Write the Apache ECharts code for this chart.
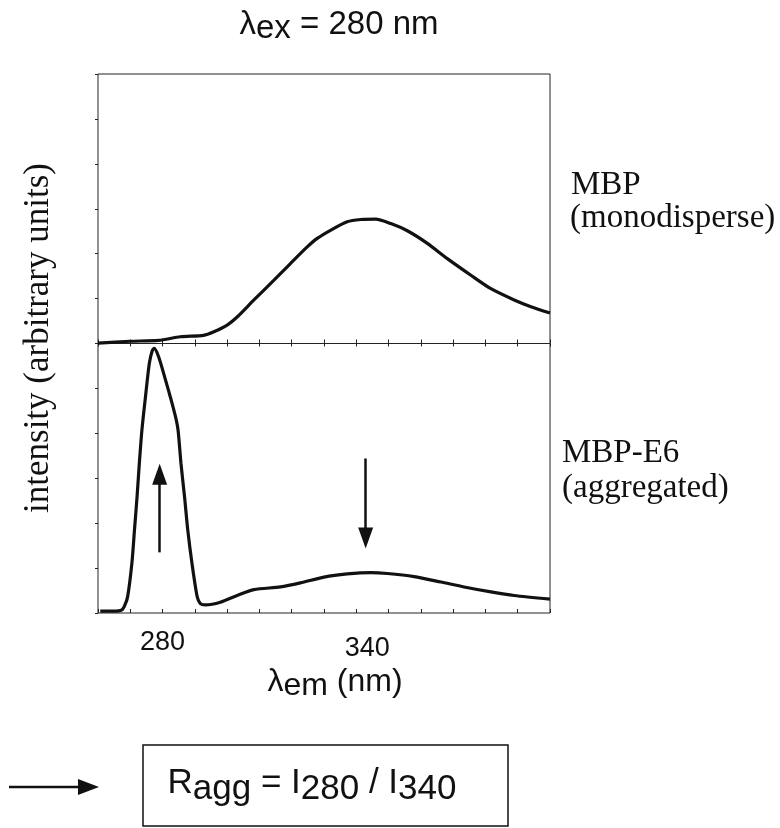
<!DOCTYPE html>
<html><head><meta charset="utf-8">
<script src="https://cdn.jsdelivr.net/npm/echarts@6/dist/echarts.min.js"></script>
<style>html,body{margin:0;padding:0;background:#fff}#c{width:780px;height:828px}</style>
</head><body><div id="c"></div>
<script>
// x range / ticks (nm)
const xMin = 260, xMax = 400, xStep = 10;
const xTickLabels = [280, 340];
// MBP (monodisperse) emission spectrum
const mbpX = [260,270,278.8,285.5,292.7,295.9,300,303.1,308.3,314.5,319.6,324.8,327.9,332,337.2,341.4,346,350.7,355.8,362,368.2,375.5,381.7,388.9,394.1,400];
const mbpY = [0.01,0.05,0.07,0.15,0.18,0.26,0.41,0.59,0.97,1.41,1.78,2.15,2.34,2.52,2.71,2.76,2.77,2.67,2.51,2.23,1.89,1.52,1.22,0.97,0.82,0.68];
// MBP-E6 (aggregated) emission spectrum
const e6X = [260.7,264.8,267.4,268.4,269.2,270.5,271.3,272.1,272.8,273.6,274.7,275.9,276.8,277.4,278.8,280.9,282.4,284,284.8,285.7,286.8,287.8,289.1,290.7,291.7,293.3,297.9,303.1,308.3,316.5,322.7,330,337.2,344.5,349.6,357.9,366.2,373.4,381.7,388.9,400];
const e6Y = [0.04,0.04,0.07,0.19,0.37,1.11,1.85,2.59,3.33,4.07,4.81,5.56,5.84,5.89,5.70,5.19,4.81,4.37,4.07,3.33,2.59,1.85,1.11,0.37,0.21,0.18,0.24,0.39,0.52,0.58,0.67,0.80,0.87,0.90,0.88,0.81,0.69,0.58,0.47,0.39,0.31];
// annotation arrows (nm, intensity)
const arrowX = [279.1, 342.9];
const arrowFrom = [1.35, 3.44];
const arrowTo = [3.09, 1.67];

const SANS = '"Liberation Sans", Arial, Helvetica, sans-serif';
const SERIF = '"Liberation Serif", "Times New Roman", serif';
const INK = '#111';

const pairs = (xs, ys) => xs.map((x, i) => [x, ys[i]]);

const chart = echarts.init(document.getElementById('c'), null, {renderer: 'canvas'});

const gridBase = {left: 98, right: 230, show: true, borderColor: '#222', borderWidth: 1, backgroundColor: 'transparent', outerBoundsMode: 'none', containLabel: false};
const xBase = {type: 'value', min: xMin, max: xMax, interval: xStep, axisLine: {show: false}, splitLine: {show: false},
  axisTick: {show: true, inside: true, length: 4, lineStyle: {color: '#222', width: 1}}, axisLabel: {show: false}};
const yBase = {type: 'value', min: 0, max: 6, interval: 1, axisLine: {show: false}, splitLine: {show: false},
  axisTick: {show: true, inside: false, length: 3, lineStyle: {color: '#222', width: 1}}, axisLabel: {show: false}};

const option = {
  animation: false,
  backgroundColor: '#fff',
  grid: [
    Object.assign({top: 74, height: 269.5}, gridBase),
    Object.assign({top: 343.5, height: 269.5}, gridBase)
  ],
  xAxis: [
    Object.assign({}, xBase, {gridIndex: 0}),
    Object.assign({}, xBase, {gridIndex: 1, axisLabel: {
      show: true, margin: 16, color: INK, fontFamily: SANS, fontSize: 27,
      formatter: v => {
        const i = xTickLabels.indexOf(Math.round(v));
        if (i < 0) return '';
        return i === 0 ? '{a|' + xTickLabels[i] + '}' : '{b|' + xTickLabels[i] + '}';
      },
      rich: {
        a: {fontFamily: SANS, fontSize: 27, color: INK},
        b: {fontFamily: SANS, fontSize: 27, color: INK, padding: [6, 0, 0, 22]}
      }
    }}),
    Object.assign({}, xBase, {gridIndex: 1, position: 'top', axisTick: {show: true, inside: true, length: 3, lineStyle: {color: '#222'}}})
  ],
  yAxis: [
    Object.assign({}, yBase, {gridIndex: 0}),
    Object.assign({}, yBase, {gridIndex: 1})
  ],
  series: [
    {type: 'line', xAxisIndex: 0, yAxisIndex: 0, data: pairs(mbpX, mbpY), smooth: 0.25, showSymbol: false,
      lineStyle: {color: INK, width: 3.2}, silent: true},
    {type: 'line', xAxisIndex: 1, yAxisIndex: 1, data: pairs(e6X, e6Y), smooth: 0.25, showSymbol: false,
      lineStyle: {color: INK, width: 3.2}, silent: true,
      markLine: {
        silent: true, animation: false, symbol: ['none', 'triangle'], symbolSize: [15, 21],
        lineStyle: {color: INK, width: 2.5, type: 'solid'}, itemStyle: {color: INK},
        label: {show: false}, emphasis: {disabled: true},
        data: arrowX.map((x, i) => [{coord: [x, arrowFrom[i]]}, {coord: [x, arrowTo[i]]}])
      }}
  ],
  graphic: [
    {type: 'text', x: 339, y: 25, style: {
      text: '{n|λ}{s|ex}{n| = 280 nm}', align: 'center', verticalAlign: 'middle', textAlign: 'center', textVerticalAlign: 'middle',
      fill: INK, font: '33px ' + SANS,
      rich: {n: {fontFamily: SANS, fontSize: 33, fill: INK, color: INK}, s: {fontFamily: SANS, fontSize: 33, fill: INK, color: INK, padding: [8, 0, 0, 0]}}
    }},
    {type: 'text', x: 571, y: 185, style: {text: 'MBP', fill: INK, font: '33px ' + SERIF, align: 'left', verticalAlign: 'middle', textAlign: 'left', textVerticalAlign: 'middle'}},
    {type: 'text', x: 570, y: 218, style: {text: '(monodisperse)', fill: INK, font: '33px ' + SERIF, align: 'left', verticalAlign: 'middle', textAlign: 'left', textVerticalAlign: 'middle'}},
    {type: 'text', x: 562, y: 453, style: {text: 'MBP-E6', fill: INK, font: '33px ' + SERIF, align: 'left', verticalAlign: 'middle', textAlign: 'left', textVerticalAlign: 'middle'}},
    {type: 'text', x: 562, y: 488, style: {text: '(aggregated)', fill: INK, font: '33px ' + SERIF, align: 'left', verticalAlign: 'middle', textAlign: 'left', textVerticalAlign: 'middle'}},
    {type: 'text', x: 39, y: 338, rotation: Math.PI / 2, style: {text: 'intensity (arbitrary units)', fill: INK, font: '35px ' + SERIF, align: 'center', verticalAlign: 'middle', textAlign: 'center', textVerticalAlign: 'middle'}},
    {type: 'text', x: 335, y: 682, style: {
      text: '{n|λ}{s|em}{n| (nm)}', align: 'center', verticalAlign: 'middle', textAlign: 'center', textVerticalAlign: 'middle',
      fill: INK, font: '32px ' + SANS,
      rich: {n: {fontFamily: SANS, fontSize: 32, fill: INK, color: INK}, s: {fontFamily: SANS, fontSize: 32, fill: INK, color: INK, padding: [8, 0, 0, 0]}}
    }},
    {type: 'rect', shape: {x: 143, y: 745, width: 365, height: 81}, style: {fill: 'none', stroke: INK, lineWidth: 1.5}},
    {type: 'text', x: 312, y: 783, style: {
      text: '{n|R}{s|agg}{n| = I}{s|280}{n| / I}{s|340}', align: 'center', verticalAlign: 'middle', textAlign: 'center', textVerticalAlign: 'middle',
      fill: INK, font: '35px ' + SANS,
      rich: {n: {fontFamily: SANS, fontSize: 35, fill: INK, color: INK}, s: {fontFamily: SANS, fontSize: 35, fill: INK, color: INK, padding: [13, 0, 0, 0]}}
    }},
    {type: 'line', shape: {x1: 9, y1: 787, x2: 82, y2: 787}, style: {stroke: INK, lineWidth: 2.5}},
    {type: 'polygon', shape: {points: [[78, 779], [99, 787], [78, 795]]}, style: {fill: INK}}
  ]
};
chart.setOption(option);
</script></body></html>
